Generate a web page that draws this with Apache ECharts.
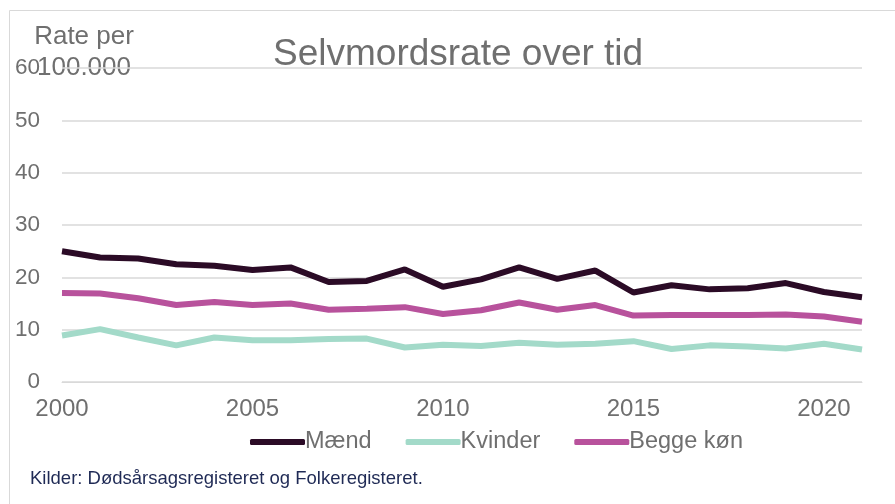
<!DOCTYPE html>
<html>
<head>
<meta charset="utf-8">
<script src="https://cdn.jsdelivr.net/npm/echarts@6/dist/echarts.min.js"></script>
<style>
  html, body { margin: 0; padding: 0; background: #fff; }
  #chart { width: 895px; height: 504px; }
</style>
</head>
<body>
<div id="chart"></div>
<script>
const years = ["2000", "2001", "2002", "2003", "2004", "2005", "2006", "2007", "2008", "2009", "2010",
  "2011", "2012", "2013", "2014", "2015", "2016", "2017", "2018", "2019", "2020", "2021"];
const maend = [25.0, 23.8, 23.6, 22.5, 22.2, 21.4, 21.9, 19.1, 19.3, 21.5, 18.2,
  19.6, 21.9, 19.7, 21.3, 17.1, 18.5, 17.7, 17.9, 18.9, 17.2, 16.2];
const kvinder = [8.9, 10.1, 8.5, 7.0, 8.5, 8.0, 8.0, 8.2, 8.3, 6.6, 7.1,
  6.9, 7.5, 7.1, 7.3, 7.8, 6.3, 7.0, 6.8, 6.4, 7.3, 6.2];
const beggeKon = [17.0, 16.9, 16.0, 14.7, 15.3, 14.7, 15.0, 13.8, 14.0, 14.3, 13.0,
  13.7, 15.2, 13.8, 14.7, 12.7, 12.8, 12.8, 12.8, 12.9, 12.5, 11.5];

const font = "Liberation Sans, Arial, sans-serif";
const gray = "#6f6f6f";

const chart = echarts.init(document.getElementById("chart"));
chart.setOption({
  animation: false,
  textStyle: { fontFamily: font },
  title: {
    text: "Selvmordsrate over tid",
    left: 268,
    top: 31,
    textStyle: { color: gray, fontSize: 37, fontWeight: "normal", fontFamily: font },
  },
  graphic: [
    {
      type: "rect",
      shape: { x: 9.5, y: 10.5, width: 1000, height: 1000 },
      style: { fill: "none", stroke: "#d9d9d9", lineWidth: 1 },
      silent: true,
    },
    {
      type: "text",
      left: 30,
      top: 469,
      style: {
        text: "Kilder: Dødsårsagsregisteret og Folkeregisteret.",
        fill: "#1f2a55",
        font: "18.5px " + font,
      },
    },
    {
      type: "text",
      x: 84,
      y: 21,
      style: {
        text: "Rate per\n100.000",
        fill: gray,
        align: "center",
        font: "26px " + font,
        lineHeight: 31,
      },
    },
  ],
  legend: {
    top: 425,
    left: 245,
    itemWidth: 55,
    itemHeight: 6,
    itemGap: 34,
    icon: "roundRect",
    textStyle: { color: gray, fontSize: 23.5, fontFamily: font, padding: [0, 0, 0, -5] },
    data: ["Mænd", "Kvinder", "Begge køn"],
  },
  grid: { left: 62, right: 33, top: 68, bottom: 122, containLabel: false },
  xAxis: {
    type: "category",
    data: years,
    boundaryGap: false,
    axisLine: { lineStyle: { color: "#d9d9d9" } },
    axisTick: { show: false },
    axisLabel: {
      color: gray,
      fontSize: 24,
      margin: 15,
      interval: (i) => i % 5 === 0,
    },
  },
  yAxis: {
    type: "value",
    min: 0,
    max: 60,
    interval: 10,
    axisLine: { show: false },
    axisTick: { show: false },
    axisLabel: { color: gray, fontSize: 22.5, margin: 22 },
    splitLine: { lineStyle: { color: "#d9d9d9", width: 1.5 } },
  },
  series: [
    {
      name: "Mænd",
      type: "line",
      data: maend,
      symbol: "none",
      lineStyle: { color: "#2b0b26", width: 6 },
      itemStyle: { color: "#2b0b26" },
      z: 3,
    },
    {
      name: "Kvinder",
      type: "line",
      data: kvinder,
      symbol: "none",
      lineStyle: { color: "#a3dac9", width: 6 },
      itemStyle: { color: "#a3dac9" },
    },
    {
      name: "Begge køn",
      type: "line",
      data: beggeKon,
      symbol: "none",
      lineStyle: { color: "#b8529c", width: 6 },
      itemStyle: { color: "#b8529c" },
    },
  ],
});
</script>
</body>
</html>
